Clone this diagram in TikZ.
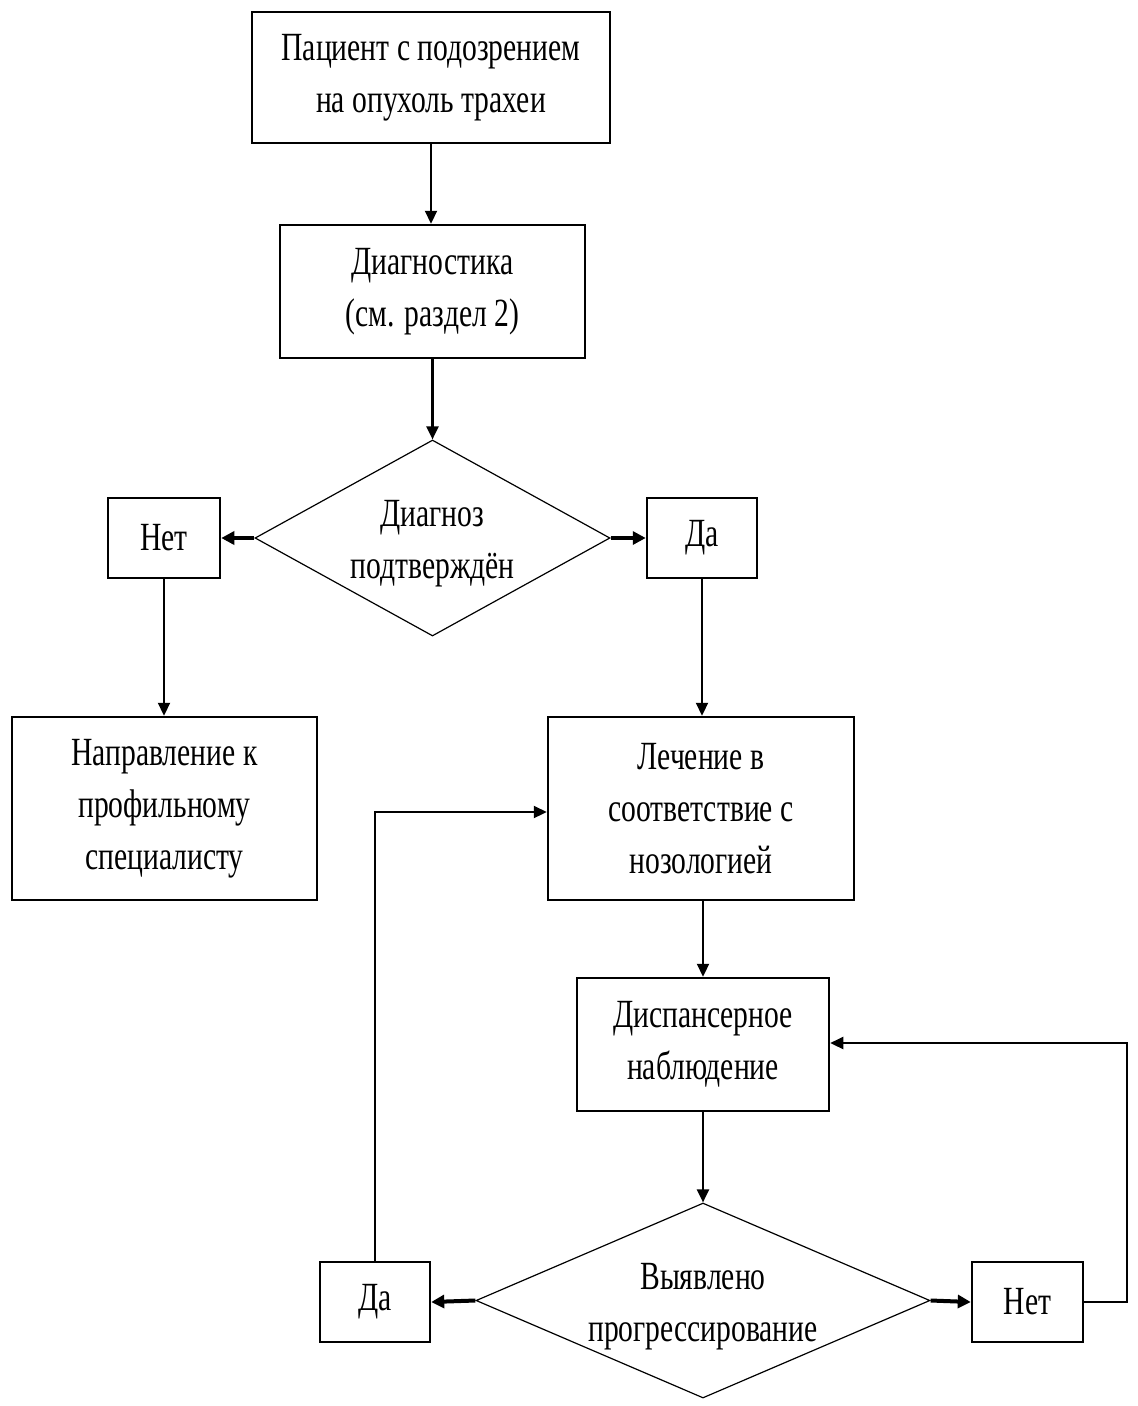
\documentclass[tikz,border=0pt]{standalone}
\usepackage{fontspec}
\setmainfont[FakeStretch=0.74]{Liberation Serif}
\usetikzlibrary{arrows.meta,shapes.geometric}
\begin{document}
\begin{tikzpicture}[x=1pt,y=-1pt,
  txt/.style={align=center,font=\fontsize{40}{52}\selectfont},
  box/.style={draw,line width=2.5pt,txt,inner sep=0pt},
  dec/.style={draw,line width=1.2pt,diamond,inner sep=0pt},
  conn/.style={line width=2.2pt,-{Triangle[length=13pt,width=12pt]}},
  side/.style={line width=4pt,-{Triangle[length=13pt,width=13pt]}}]
\useasboundingbox (0,0) rectangle (1138,1406);
\node[box,minimum width=358pt,minimum height=131pt] (p) at (431,77.5) {\raisebox{-4pt}{\parbox{300pt}{\centering Пациент с подозрением\\на опухоль  трахеи}}};
\node[box,minimum width=305pt,minimum height=133pt] (d) at (432.5,291.5) {\raisebox{-6pt}{\parbox{280pt}{\centering Диагностика\\(см. раздел 2)}}};
\node[dec,minimum width=355pt,minimum height=196pt,label={[txt,yshift=-6pt]center:Диагноз\\подтверждён}] (q1) at (432.5,538) {};
\node[box,minimum width=112pt,minimum height=80pt] (n1) at (164,538) {Нет};
\node[box,minimum width=110pt,minimum height=80pt] (y1) at (702,538) {Да};
\node[box,minimum width=305pt,minimum height=183pt] (r) at (164.5,808.5) {\raisebox{-8pt}{\parbox{290pt}{\centering Направление к\\профильному\\специалисту}}};
\node[box,minimum width=306pt,minimum height=183pt] (t) at (701,808.5) {\raisebox{-4pt}{\parbox{290pt}{\centering Лечение в\\соответствие с\\нозологией}}};
\node[box,minimum width=252pt,minimum height=133pt] (m) at (703,1044.5) {Диспансерное\\наблюдение};
\node[dec,minimum width=454pt,minimum height=195pt,label={[txt,yshift=-6pt]center:Выявлено\\прогрессирование}] (q2) at (703,1300.5) {};
\node[box,minimum width=110pt,minimum height=80pt] (y2) at (375,1302) {Да};
\node[box,minimum width=111pt,minimum height=80pt] (n2) at (1027.5,1302) {Нет};
\coordinate (c1) at (375,812);
\coordinate (c2) at (1127,1302);
\coordinate (c3) at (1127,1043);
\draw[conn] (p.south) -- (p.south |- d.north);
\draw[conn] (d.south) -- (q1.north);
\draw[side] (q1.west) -- (n1.east);
\draw[side] (q1.east) -- (y1.west);
\draw[conn] (n1.south) -- (n1.south |- r.north);
\draw[conn] (y1.south) -- (y1.south |- t.north);
\draw[conn] (t.south -| m.north) -- (m.north);
\draw[conn] (m.south) -- (q2.north);
\draw[side] (q2.west) -- (y2.east);
\draw[side] (q2.east) -- (n2.west);
\draw[conn] (y2.north) -- (c1) -- (t.west |- c1);
\draw[conn] (n2.east) -- (c2) -- (c3) -- (m.east |- c3);
\end{tikzpicture}
\end{document}
